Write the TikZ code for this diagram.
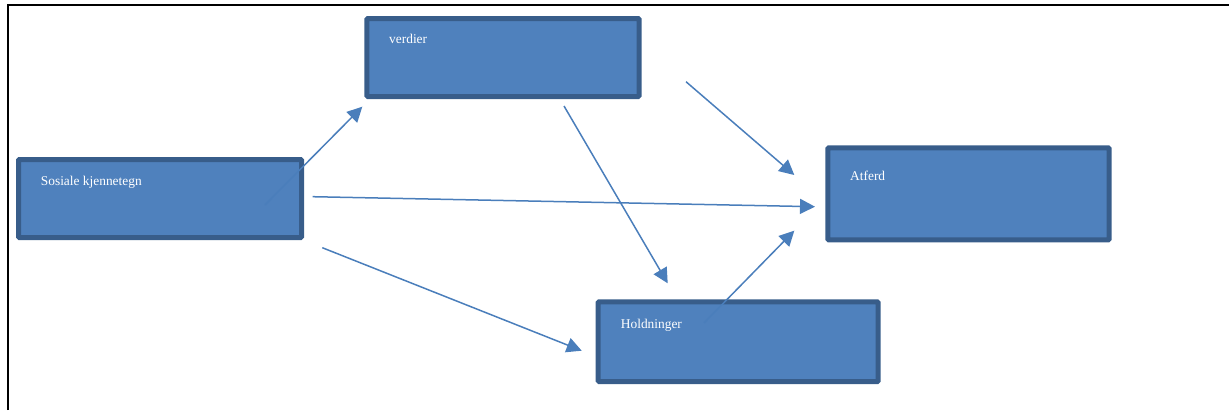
\documentclass[tikz,border=0pt]{standalone}
\usepackage{fontspec}
\setmainfont{Liberation Serif}
\usetikzlibrary{arrows.meta}
\definecolor{boksfyll}{HTML}{4F81BD}
\definecolor{boksrand}{HTML}{385D8A}
\definecolor{pilfarge}{HTML}{4A7EBB}

\begin{document}
\begin{tikzpicture}[x=1pt,y=-1pt,
  boks/.style={draw=boksrand, fill=boksfyll, line width=5pt, rounded corners=1pt, anchor=north west, inner sep=0pt},
  tekst/.style={text=white, font=\fontsize{13.4}{16}\selectfont, anchor=base west, inner sep=0pt},
  pil/.style={draw=pilfarge, line width=1.5pt, -{Triangle[length=15pt,width=15pt]}}]
\useasboundingbox (0,0) rectangle (1229,410);
\draw[line width=2pt] (8,410) -- (8,5) -- (1229,5);

\node[boks, minimum width=272.4pt, minimum height=78pt, label={[tekst, xshift=24.7pt, yshift=-27.5pt]north west:verdier}] (verdier) at (364.3,16) {};
\node[boks, minimum width=283pt, minimum height=78pt, label={[tekst, xshift=24.7pt, yshift=-28.7pt]north west:Sosiale kjennetegn}] (sosiale) at (16,157) {};
\node[boks, minimum width=280pt, minimum height=79.7pt, label={[tekst, xshift=25pt, yshift=-28.7pt]north west:Holdninger}] (holdninger) at (595.7,299.3) {};
\node[boks, minimum width=281.4pt, minimum height=92pt, label={[tekst, xshift=24.7pt, yshift=-35.4pt]north west:Atferd}] (atferd) at (825.3,145.3) {};

% pilendene
\coordinate (sv1) at (265,205);   \coordinate (sv2) at (362.3,106.7);
\coordinate (sa1) at (312.7,196.7); \coordinate (sa2) at (815,206.7);
\coordinate (sh1) at (322.3,247.7); \coordinate (sh2) at (581.7,350.7);
\coordinate (vh1) at (564,106);   \coordinate (vh2) at (667.7,283.3);
\coordinate (va1) at (686,81.7);  \coordinate (va2) at (794.3,175);
\coordinate (ha1) at (704,323);   \coordinate (ha2) at (794.3,230.7);

\draw[pil] (sv1) -- (sv2);
\draw[pil] (sa1) -- (sa2);
\draw[pil] (sh1) -- (sh2);
\draw[pil] (vh1) -- (vh2);
\draw[pil] (va1) -- (va2);
\draw[pil] (ha1) -- (ha2);
\end{tikzpicture}
\end{document}
